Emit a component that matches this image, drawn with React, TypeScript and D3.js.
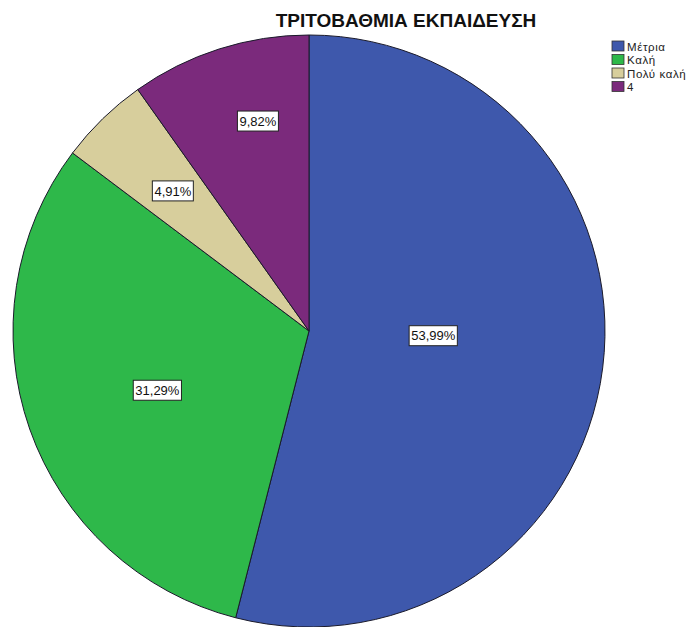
import React from "react";
import * as d3 from "d3";

const categories = ["Μέτρια", "Καλή", "Πολύ καλή", "4"];
const values = [53.99, 31.29, 4.91, 9.82];
const valueLabels = ["53,99%", "31,29%", "4,91%", "9,82%"];
const colors = ["#3e58ac", "#2eb84a", "#d7ce9c", "#7b2a7c"];
const labelRadiusFrac = [0.42, 0.55, 0.66, 0.73];
const labelAngleShiftDeg = [-5, -2, 0, 4];
const title = "ΤΡΙΤΟΒΑΘΜΙΑ ΕΚΠΑΙΔΕΥΣΗ";

const W = 694, H = 627;
const cx = 309, cy = 331, R = 296;

export default function App() {
  const pie = d3.pie<number>().sort(null).value(d => d);
  const arcs = pie(values);
  const arc = d3.arc<d3.PieArcDatum<number>>().innerRadius(0).outerRadius(R);
  return (
    <svg width={W} height={H} style={{ position: "absolute", left: 0, top: 0, background: "#fff" }}
      fontFamily="'Liberation Sans', Arial, sans-serif">
      <g transform={`translate(${cx},${cy})`}>
        {arcs.map((a, i) => (
          <path key={i} d={arc(a) || ""} fill={colors[i]} stroke="#1a1a2a" strokeWidth={1} />
        ))}
        {arcs.map((a, i) => {
          const r = R * labelRadiusFrac[i];
          const ang = (a.startAngle + a.endAngle) / 2 + (labelAngleShiftDeg[i] * Math.PI) / 180;
          const x = r * Math.sin(ang);
          const y = -r * Math.cos(ang);
          const w = valueLabels[i].length * 7.2 + 5;
          return (
            <g key={"l" + i} transform={`translate(${x},${y})`}>
              <rect x={-w / 2} y={-10} width={w} height={20} fill="#fff" stroke="#222" strokeWidth={1} />
              <text textAnchor="middle" dy="0.36em" fontSize={13} fill="#111">{valueLabels[i]}</text>
            </g>
          );
        })}
      </g>
      <text x={406} y={27} textAnchor="middle" fontSize={19} fontWeight={600} fill="#111">{title}</text>
      <g transform="translate(612,41)">
        {categories.map((c, i) => (
          <g key={c} transform={`translate(0,${i * 13.5})`}>
            <rect x={0} y={0} width={12} height={10} fill={colors[i]} stroke="#333" strokeWidth={0.8} />
            <text x={15} y={9.5} fontSize={11.5} letterSpacing={0.6} fill="#222">{c}</text>
          </g>
        ))}
      </g>
    </svg>
  );
}
